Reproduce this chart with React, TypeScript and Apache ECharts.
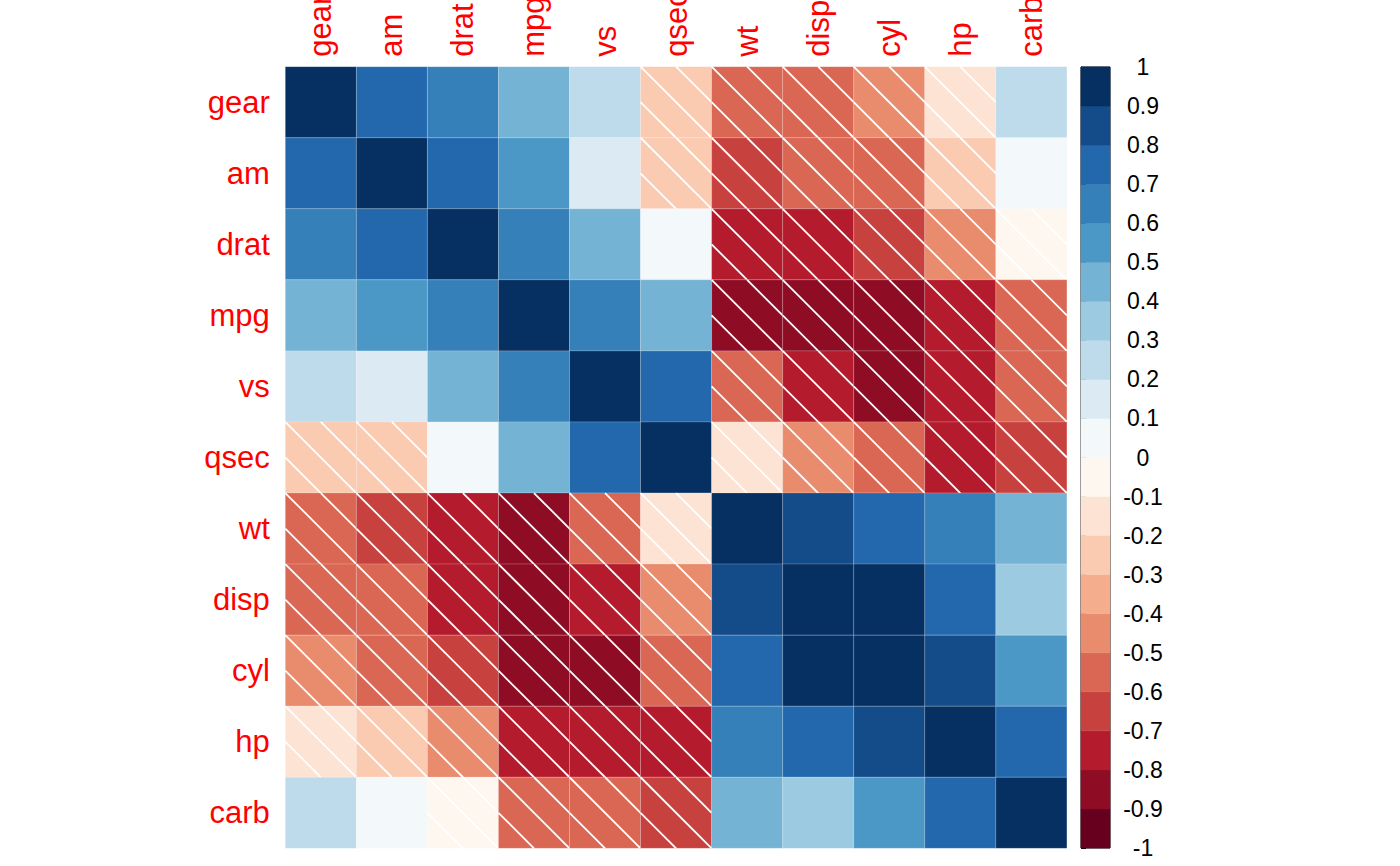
import React, { useEffect, useRef } from 'react';
import * as echarts from 'echarts';

const VARS = ['gear', 'am', 'drat', 'mpg', 'vs', 'qsec', 'wt', 'disp', 'cyl', 'hp', 'carb'];

const CORR: number[][] = [
  [1, 0.7941, 0.6996, 0.4803, 0.206, -0.2127, -0.5833, -0.5556, -0.4927, -0.1257, 0.2741],
  [0.7941, 1, 0.7127, 0.5998, 0.1683, -0.2299, -0.6925, -0.5912, -0.5226, -0.2432, 0.0575],
  [0.6996, 0.7127, 1, 0.6812, 0.4403, 0.0912, -0.7124, -0.7102, -0.6999, -0.4488, -0.0908],
  [0.4803, 0.5998, 0.6812, 1, 0.664, 0.4187, -0.8677, -0.8476, -0.8522, -0.7762, -0.5509],
  [0.206, 0.1683, 0.4403, 0.664, 1, 0.7445, -0.5549, -0.7104, -0.8108, -0.7231, -0.5696],
  [-0.2127, -0.2299, 0.0912, 0.4187, 0.7445, 1, -0.1747, -0.4337, -0.5912, -0.7082, -0.6562],
  [-0.5833, -0.6925, -0.7124, -0.8677, -0.5549, -0.1747, 1, 0.888, 0.7825, 0.6587, 0.4276],
  [-0.5556, -0.5912, -0.7102, -0.8476, -0.7104, -0.4337, 0.888, 1, 0.902, 0.7909, 0.395],
  [-0.4927, -0.5226, -0.6999, -0.8522, -0.8108, -0.5912, 0.7825, 0.902, 1, 0.8324, 0.527],
  [-0.1257, -0.2432, -0.4488, -0.7762, -0.7231, -0.7082, 0.6587, 0.7909, 0.8324, 1, 0.7498],
  [0.2741, 0.0575, -0.0908, -0.5509, -0.5696, -0.6562, 0.4276, 0.395, 0.527, 0.7498, 1],
];

// 20-step RdBu palette, from -1 (index 0) to +1 (index 19)
const PALETTE = [
  '#67001F', '#8E0D25', '#B41C2D', '#C7423F', '#D96753',
  '#E98C6E', '#F5AE8D', '#FACAB1', '#FDE3D3', '#FEF7F0',
  '#F3F8FB', '#DBEAF3', '#BDDBEA', '#9CCAE1', '#75B3D4',
  '#4B98C6', '#3580B9', '#2368AD', '#144C89', '#053061',
];

const LEGEND_MIN = -1;
const LEGEND_MAX = 1;
const LEGEND_STEP = 0.1;

const FONT = '"Liberation Sans", Arial, Helvetica, sans-serif';

function colorFor(v: number): string {
  let idx = Math.floor((v - LEGEND_MIN) / LEGEND_STEP + 1e-9);
  if (idx > PALETTE.length - 1) idx = PALETTE.length - 1;
  if (idx < 0) idx = 0;
  return PALETTE[idx];
}

export default function App() {
  const ref = useRef<HTMLDivElement>(null);

  useEffect(() => {
    const chart = echarts.init(ref.current!, null, { renderer: 'svg' });

    const cellData: number[][] = [];
    CORR.forEach((row, r) => {
      row.forEach((v, c) => {
        cellData.push([c, r, v]);
      });
    });

    const legendData = PALETTE.map((_, i) => [
      LEGEND_MIN + i * LEGEND_STEP,
      LEGEND_MIN + (i + 1) * LEGEND_STEP,
      i,
    ]);

    const option: any = {
      animation: false,
      backgroundColor: '#ffffff',
      textStyle: { fontFamily: FONT },
      grid: [
        {
          left: 285.3, top: 66.7, width: 781.6, height: 781.6,
          containLabel: false, outerBoundsMode: 'none',
        },
        {
          left: 1081, top: 67, width: 29, height: 781,
          containLabel: false, outerBoundsMode: 'none',
          show: true, borderColor: '#000', borderWidth: 1, backgroundColor: 'transparent',
        },
      ],
      xAxis: [
        {
          gridIndex: 0,
          type: 'category',
          data: VARS,
          position: 'top',
          axisLine: { show: false },
          axisTick: { show: false },
          splitLine: { show: false },
          axisLabel: {
            interval: 0,
            rotate: -90,
            margin: 10,
            color: '#ff0000',
            fontSize: 31,
            fontFamily: FONT,
          },
        },
        {
          gridIndex: 1,
          type: 'value',
          min: 0,
          max: 1,
          show: false,
        },
      ],
      yAxis: [
        {
          gridIndex: 0,
          type: 'category',
          data: VARS,
          inverse: true,
          axisLine: { show: false },
          axisTick: { show: false },
          splitLine: { show: false },
          axisLabel: {
            interval: 0,
            margin: 15.5,
            color: '#ff0000',
            fontSize: 31,
            fontFamily: FONT,
          },
        },
        {
          gridIndex: 1,
          type: 'value',
          min: LEGEND_MIN,
          max: LEGEND_MAX,
          interval: LEGEND_STEP,
          position: 'right',
          splitLine: { show: false },
          axisLine: { show: true, lineStyle: { color: '#000', width: 1 } },
          axisTick: { show: true, length: 5, inside: false, lineStyle: { color: '#000', width: 1 } },
          axisLabel: {
            margin: 33,
            align: 'center',
            color: '#000',
            fontSize: 23,
            fontFamily: FONT,
            formatter: (v: number) => String(Math.round(v * 10) / 10),
          },
        },
      ],
      series: [
        {
          type: 'custom',
          xAxisIndex: 0,
          yAxisIndex: 0,
          silent: true,
          encode: { x: 0, y: 1 },
          data: cellData,
          renderItem: (params: any, api: any) => {
            const cx = api.value(0);
            const cy = api.value(1);
            const v = api.value(2);
            const center = api.coord([cx, cy]);
            const size = api.size([1, 1]);
            const w = size[0];
            const h = size[1];
            const x0 = center[0] - w / 2;
            const y0 = center[1] - h / 2;
            const children: any[] = [
              {
                type: 'rect',
                shape: { x: x0, y: y0, width: w, height: h },
                style: { fill: colorFor(v), stroke: 'rgba(255,255,255,0.22)', lineWidth: 0.8 },
              },
            ];
            if (v < 0) {
              const ls = { stroke: '#ffffff', lineWidth: 1.8 };
              children.push(
                { type: 'line', shape: { x1: x0, y1: y0, x2: x0 + w, y2: y0 + h }, style: ls },
                { type: 'line', shape: { x1: x0 + w / 2, y1: y0, x2: x0 + w, y2: y0 + h / 2 }, style: ls },
                { type: 'line', shape: { x1: x0, y1: y0 + h / 2, x2: x0 + w / 2, y2: y0 + h }, style: ls },
              );
            }
            return { type: 'group', children };
          },
        },
        {
          type: 'custom',
          xAxisIndex: 1,
          yAxisIndex: 1,
          silent: true,
          data: legendData,
          encode: { y: [0, 1] },
          renderItem: (params: any, api: any) => {
            const lo = api.value(0);
            const hi = api.value(1);
            const idx = api.value(2);
            const p1 = api.coord([0, hi]);
            const p2 = api.coord([1, lo]);
            return {
              type: 'rect',
              shape: { x: p1[0], y: p1[1], width: p2[0] - p1[0], height: p2[1] - p1[1] },
              style: { fill: PALETTE[idx], stroke: PALETTE[idx], lineWidth: 0.5 },
            };
          },
        },
      ],
    };

    chart.setOption(option);
    return () => {
      chart.dispose();
    };
  }, []);

  return (
    <div
      ref={ref}
      style={{ position: 'fixed', left: 0, top: 0, width: 1400, height: 866, background: '#fff' }}
    />
  );
}
